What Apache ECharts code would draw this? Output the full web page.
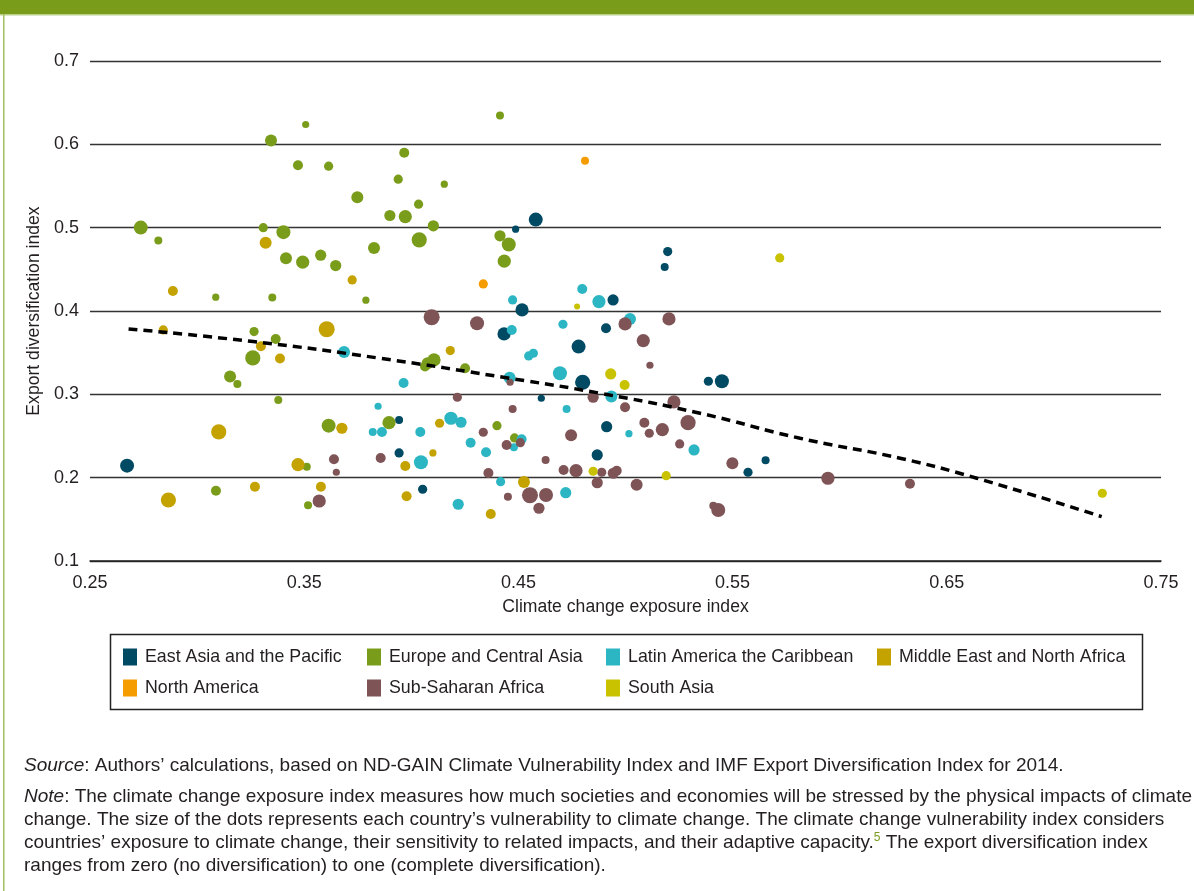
<!DOCTYPE html>
<html>
<head>
<meta charset="utf-8">
<script src="https://cdn.jsdelivr.net/npm/echarts@6/dist/echarts.min.js"></script>
<style>
html,body{margin:0;padding:0;background:#fff;}
#chart{width:1194px;height:891px;}
</style>
</head>
<body>
<div id="chart"></div>
<script>
// Each point: [climate change exposure index, export diversification index, vulnerability index]
const eastAsiaPacific = [
  [0.2673,0.2144,0.55],[0.4487,0.4982,0.38],[0.4581,0.5097,0.55],[0.5197,0.4713,0.43],
  [0.5183,0.4529,0.40],[0.4517,0.4013,0.53],[0.4942,0.4133,0.48],[0.4433,0.3725,0.53],
  [0.4909,0.3794,0.45],[0.4781,0.3573,0.55],[0.4800,0.3145,0.58],[0.4607,0.2953,0.38],
  [0.3943,0.2693,0.40],[0.4912,0.2612,0.48],[0.3943,0.2297,0.43],[0.4868,0.2273,0.48],
  [0.4053,0.1861,0.43],[0.5387,0.3157,0.43],[0.5450,0.3157,0.55],[0.5654,0.2209,0.40],
  [0.5572,0.2065,0.43]
];
const europeCentralAsia = [
  [0.3507,0.6238,0.38],[0.3345,0.6047,0.50],[0.3471,0.5750,0.45],[0.3614,0.5738,0.43],
  [0.3748,0.5366,0.50],[0.2737,0.5001,0.55],[0.2819,0.4845,0.40],[0.3309,0.5000,0.43],
  [0.3403,0.4946,0.55],[0.3415,0.4634,0.50],[0.3493,0.4586,0.53],[0.3577,0.4670,0.48],
  [0.3647,0.4545,0.48],[0.3826,0.4757,0.50],[0.3087,0.4166,0.38],[0.3351,0.4161,0.40],
  [0.3788,0.4130,0.38],[0.4414,0.6346,0.40],[0.3967,0.5898,0.45],[0.3939,0.5582,0.43],
  [0.4154,0.5522,0.38],[0.4034,0.5282,0.43],[0.3900,0.5146,0.48],[0.3972,0.5133,0.53],
  [0.4103,0.5022,0.48],[0.4037,0.4854,0.58],[0.4414,0.4902,0.48],[0.4455,0.4798,0.55],
  [0.4434,0.4598,0.53],[0.3266,0.3753,0.43],[0.3367,0.3665,0.45],[0.3260,0.3437,0.58],
  [0.3154,0.3213,0.50],[0.3188,0.3125,0.40],[0.3379,0.2933,0.40],[0.3614,0.2624,0.55],
  [0.3512,0.2132,0.40],[0.3088,0.1844,0.45],[0.3518,0.1669,0.40],[0.4106,0.3413,0.53],
  [0.4076,0.3373,0.50],[0.4064,0.3333,0.45],[0.4251,0.3313,0.45],[0.3896,0.2660,0.53],
  [0.4400,0.2624,0.43],[0.4482,0.2477,0.43]
];
const latinAmericaCaribbean = [
  [0.4473,0.4133,0.43],[0.4876,0.4113,0.53],[0.4798,0.4265,0.45],[0.5021,0.3905,0.50],
  [0.4469,0.3773,0.45],[0.4708,0.3841,0.43],[0.4548,0.3461,0.43],[0.4570,0.3493,0.43],
  [0.3686,0.3509,0.50],[0.3964,0.3137,0.45],[0.4694,0.3253,0.55],[0.4459,0.3200,0.50],
  [0.4934,0.2973,0.50],[0.4725,0.2825,0.40],[0.3845,0.2857,0.38],[0.3820,0.2549,0.40],
  [0.3863,0.2549,0.45],[0.4042,0.2549,0.45],[0.4185,0.2713,0.53],[0.4232,0.2665,0.48],
  [0.4277,0.2420,0.45],[0.4515,0.2461,0.45],[0.4479,0.2365,0.40],[0.5016,0.2528,0.38],
  [0.4045,0.2185,0.55],[0.4349,0.2305,0.45],[0.4417,0.1952,0.43],[0.4219,0.1681,0.48],
  [0.4721,0.1820,0.48],[0.5320,0.2333,0.48]
];
const middleEastNorthAfrica = [
  [0.3320,0.4820,0.50],[0.2887,0.4241,0.45],[0.3724,0.4373,0.43],[0.2842,0.3773,0.43],
  [0.3605,0.3781,0.60],[0.3298,0.3577,0.45],[0.3387,0.3429,0.45],[0.3101,0.2549,0.58],
  [0.3676,0.2593,0.48],[0.3471,0.2156,0.53],[0.2866,0.1732,0.58],[0.3270,0.1892,0.45],
  [0.3578,0.1892,0.45],[0.4182,0.3525,0.43],[0.4132,0.2653,0.43],[0.4101,0.2297,0.38],
  [0.3972,0.2140,0.45],[0.3978,0.1777,0.45],[0.4371,0.1564,0.45],[0.4526,0.1948,0.50]
];
const northAmerica = [
  [0.4811,0.5802,0.40],[0.4336,0.4325,0.43]
];
const subSaharanAfrica = [
  [0.4095,0.3925,0.60],[0.4307,0.3853,0.55],[0.4998,0.3845,0.53],[0.5083,0.3645,0.53],
  [0.5203,0.3905,0.53],[0.5114,0.3349,0.38],[0.4461,0.3145,0.38],[0.4215,0.2965,0.43],
  [0.4849,0.2965,0.48],[0.4998,0.2845,0.45],[0.4473,0.2825,0.40],[0.5226,0.2909,0.53],
  [0.5088,0.2660,0.45],[0.5111,0.2533,0.43],[0.5172,0.2577,0.53],[0.5292,0.2660,0.58],
  [0.5253,0.2405,0.43],[0.4336,0.2545,0.43],[0.4445,0.2393,0.45],[0.4509,0.2420,0.43],
  [0.4746,0.2509,0.50],[0.3639,0.2221,0.45],[0.3650,0.2065,0.38],[0.3857,0.2237,0.45],
  [0.3570,0.1720,0.53],[0.4627,0.2212,0.40],[0.4360,0.2056,0.45],[0.4711,0.2093,0.45],
  [0.4769,0.2084,0.53],[0.4889,0.2065,0.43],[0.4868,0.1940,0.48],[0.4943,0.2053,0.48],
  [0.4959,0.2084,0.45],[0.5052,0.1916,0.50],[0.4451,0.1772,0.40],[0.4554,0.1789,0.60],
  [0.4629,0.1792,0.55],[0.4596,0.1633,0.48],[0.5499,0.2173,0.50],[0.5945,0.1993,0.53],
  [0.5410,0.1664,0.40],[0.5433,0.1612,0.55],[0.6328,0.1928,0.45]
];
const southAsia = [
  [0.4774,0.4054,0.35],[0.5720,0.4637,0.43],[0.4931,0.3245,0.48],[0.4996,0.3113,0.45],
  [0.4849,0.2077,0.43],[0.5190,0.2024,0.43],[0.7226,0.1813,0.43]
];
// Fitted trend curve
const trendLine = [
  [0.2680,0.3785],[0.3262,0.3633],[0.3854,0.3433],[0.4458,0.3193],[0.4881,0.3013],
  [0.5348,0.2773],[0.5815,0.2473],[0.6282,0.2233],[0.6640,0.1993],[0.7223,0.1532]
];

const FONT = '"Liberation Sans", Arial, Helvetica, sans-serif';
const TXT = '#231f20';

const groups = [
  {name:'East Asia and the Pacific', data:eastAsiaPacific, color:'#004a63'},
  {name:'Europe and Central Asia', data:europeCentralAsia, color:'#7a9c1b'},
  {name:'Latin America the Caribbean', data:latinAmericaCaribbean, color:'#2cb6c4'},
  {name:'Middle East and North Africa', data:middleEastNorthAfrica, color:'#c4a200'},
  {name:'North America', data:northAmerica, color:'#f59c00'},
  {name:'Sub-Saharan Africa', data:subSaharanAfrica, color:'#7f5457'},
  {name:'South Asia', data:southAsia, color:'#c9c200'}
];

const series = groups.map(g => ({
  name: g.name,
  type: 'scatter',
  data: g.data,
  symbol: 'circle',
  symbolSize: d => (d[2] - 0.2) * 40,
  itemStyle: {color: g.color, opacity: 1},
  emphasis: {disabled: true},
  z: 3
}));
series.push({
  name: 'Trend',
  type: 'line',
  data: trendLine,
  smooth: true,
  symbol: 'none',
  lineStyle: {color: '#000', width: 3.5, type: [9, 6], cap: 'butt'},
  emphasis: {disabled: true},
  z: 5
});

const legendCommon = {
  orient: 'vertical', top: 648, padding: 0, itemGap: 13,
  itemWidth: 14, itemHeight: 17, icon: 'rect', selectedMode: false,
  textStyle: {fontSize: 17.8, fontFamily: FONT, color: TXT, padding: [0,0,0,3]}
};

const richBase = {fontSize: 19, fontFamily: FONT, fill: TXT};
function noteText(y, text) {
  return {
    type: 'text', x: 24, y: y, silent: true,
    style: Object.assign({}, richBase, {
      text: text, verticalAlign: 'middle',
      rich: {
        i: Object.assign({}, richBase, {fontStyle: 'italic'}),
        s: {fontSize: 12, fontFamily: FONT, fill: '#7a9c1b', verticalAlign: 'top', lineHeight: 22}
      }
    })
  };
}

const option = {
  animation: false,
  backgroundColor: '#fff',
  grid: {left: 90, right: 33, top: 61, bottom: 330},
  xAxis: {
    type: 'value', min: 0.25, max: 0.75, interval: 0.1,
    name: 'Climate change exposure index', nameLocation: 'middle', nameGap: 37,
    nameTextStyle: {fontSize: 17.6, fontFamily: FONT, color: TXT},
    axisLine: {show: true, lineStyle: {color: '#222', width: 1.5}},
    axisTick: {show: false},
    splitLine: {show: false},
    axisLabel: {fontSize: 18, fontFamily: FONT, color: TXT, margin: 13,
      formatter: v => v.toFixed(2)}
  },
  yAxis: {
    type: 'value', min: 0.1, max: 0.7, interval: 0.1,
    name: 'Export diversification index', nameLocation: 'middle', nameGap: 40,
    nameTextStyle: {fontSize: 17.6, fontFamily: FONT, color: TXT},
    axisLine: {show: false}, axisTick: {show: false},
    splitLine: {show: true, lineStyle: {color: '#333', width: 1.4}},
    axisLabel: {fontSize: 18, fontFamily: FONT, color: TXT, margin: 11,
      formatter: v => v.toFixed(1)}
  },
  legend: [
    Object.assign({}, legendCommon, {left: 123, data: ['East Asia and the Pacific', 'North America']}),
    Object.assign({}, legendCommon, {left: 367, data: ['Europe and Central Asia', 'Sub-Saharan Africa']}),
    Object.assign({}, legendCommon, {left: 606, data: ['Latin America the Caribbean', 'South Asia']}),
    Object.assign({}, legendCommon, {left: 877, data: ['Middle East and North Africa']})
  ],
  graphic: [
    {type: 'rect', silent: true, shape: {x: 0, y: 0, width: 1194, height: 14}, style: {fill: '#7a9c1b'}},
    {type: 'rect', silent: true, shape: {x: 0, y: 14, width: 1194, height: 1.5}, style: {fill: '#b9d08a'}},
    {type: 'rect', silent: true, shape: {x: 3, y: 14, width: 1.5, height: 877}, style: {fill: '#a3bf62'}},
    {type: 'rect', silent: true, shape: {x: 110.5, y: 634.5, width: 1032, height: 75},
      style: {fill: 'none', stroke: '#222', lineWidth: 1.5}},
    noteText(766, '{i|Source}: Authors’ calculations, based on ND-GAIN Climate Vulnerability Index and IMF Export Diversification Index for 2014.'),
    noteText(797, '{i|Note}: The climate change exposure index measures how much societies and economies will be stressed by the physical impacts of climate'),
    noteText(820, 'change. The size of the dots represents each country’s vulnerability to climate change. The climate change vulnerability index considers'),
    noteText(843, 'countries’ exposure to climate change, their sensitivity to related impacts, and their adaptive capacity.{s|5} The export diversification index'),
    noteText(866, 'ranges from zero (no diversification) to one (complete diversification).')
  ],
  series: series
};

const chart = echarts.init(document.getElementById('chart'), null, {renderer: 'canvas'});
chart.setOption(option);
</script>
</body>
</html>
